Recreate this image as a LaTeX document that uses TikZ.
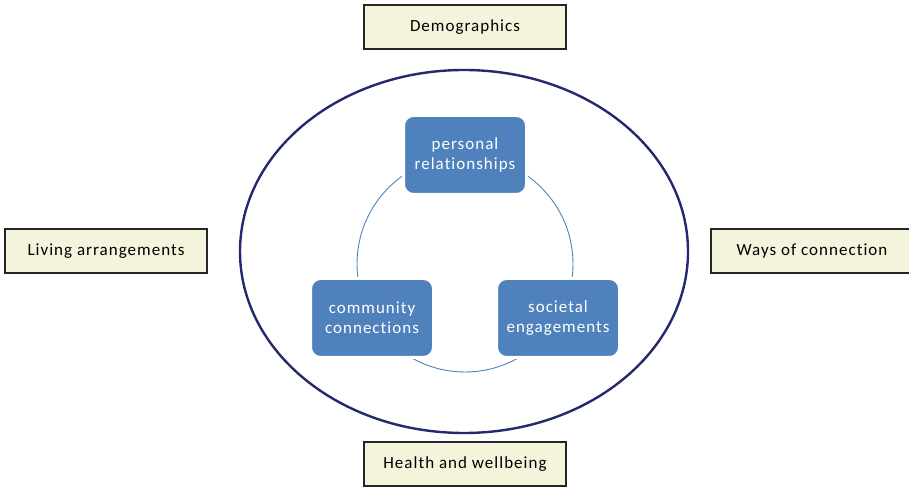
\documentclass[tikz,border=0pt]{standalone}
\usepackage{fontspec}
\setmainfont{Carlito}[LetterSpace=6,Ligatures=NoCommon]
\usetikzlibrary{positioning}

\definecolor{factorfill}{HTML}{F4F4DC}
\definecolor{linkblue}{HTML}{4F81BD}
\definecolor{ringnavy}{HTML}{24286E}

\tikzset{
    factor/.style={draw=black!85,line width=1.1pt,fill=factorfill,
        minimum width=202pt,minimum height=44pt,inner sep=0pt,
        font=\fontsize{17}{20}\selectfont},
    linkbox/.style={draw=white,line width=3pt,fill=linkblue,
        rounded corners=10pt,minimum width=123pt,minimum height=79pt,
        text=white,align=center,inner sep=0pt,
        font=\fontsize{17}{20}\selectfont},
    cyclering/.style={draw=linkblue,line width=0.9pt}
}

\begin{document}
\begin{tikzpicture}[x=1pt,y=1pt]
  % Frame
    \useasboundingbox (0,0) rectangle (909,487);
    \clip (0,0) rectangle (909,487);

  % The ring
    \draw[ringnavy,line width=2.4pt] (464,235.5) ellipse [x radius=224,y radius=181.5];

  % The cycle behind the three boxes
    \coordinate (hub) at (465,223);
    \draw[cyclering] (hub) circle [radius=108];

  % The three kinds of connection
    \node[linkbox] (pers) at (465,332) {personal\\relationships};
    \node[linkbox] (comm) at (372,169) {community\\connections};
    \node[linkbox] (soci) at (558,169) {societal\\engagements};

  % Outer factors
    \node[factor] (demo) at (465,460) {Demographics};
    \node[factor] (livi) at (106,236) {Living arrangements};
    \node[factor] (ways) at (812,236) {Ways of connection};
    \node[factor] (heal) at (465,23) {Health and wellbeing};
\end{tikzpicture}
\end{document}
